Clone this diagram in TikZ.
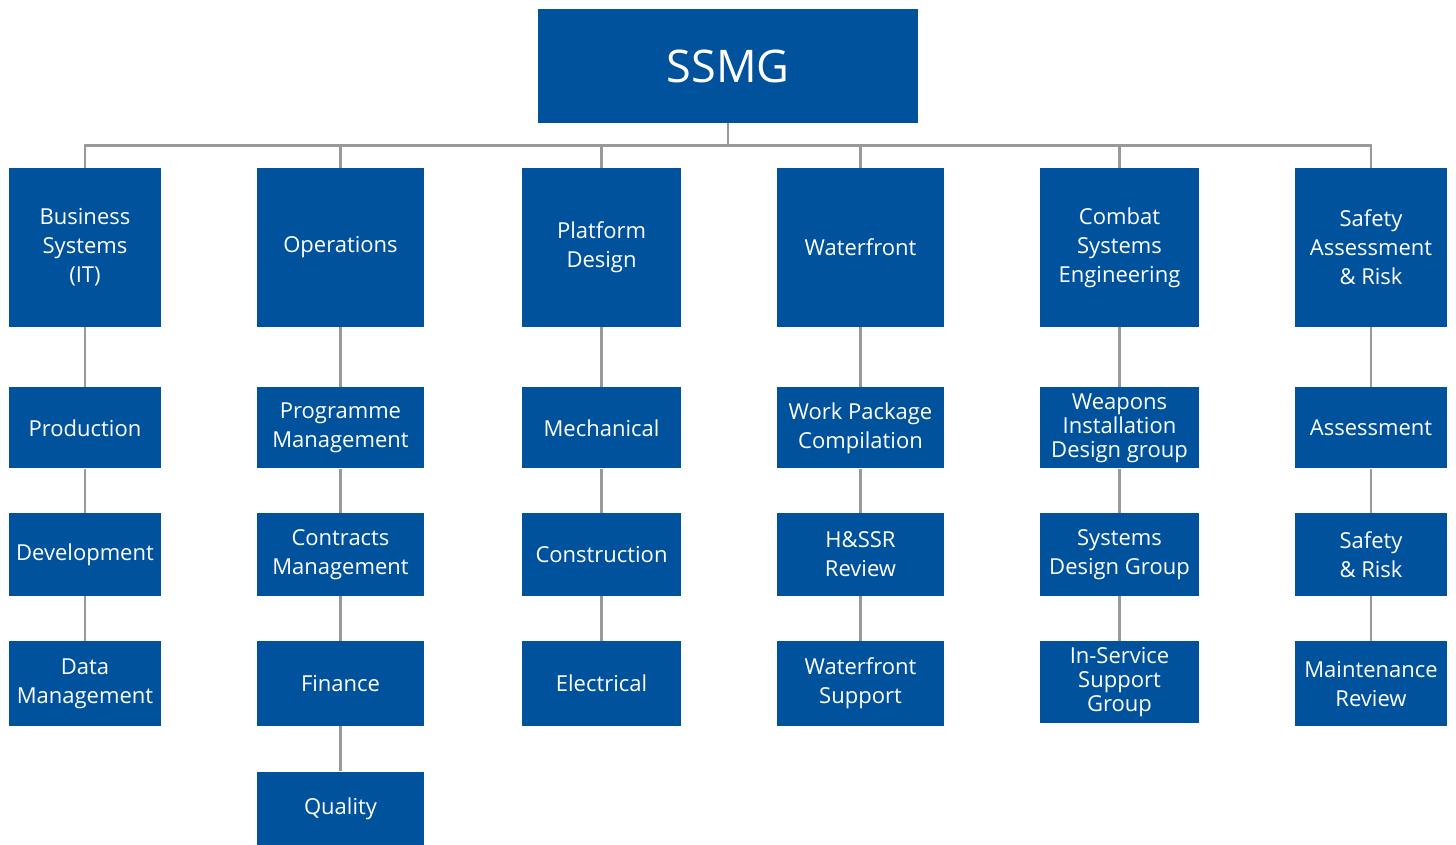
\documentclass[tikz,border=0pt]{standalone}
\usepackage{fontspec}
\setmainfont{Open Sans}
\usetikzlibrary{positioning}

\definecolor{ssmgblue}{RGB}{0,82,156}
\definecolor{linkgray}{RGB}{153,153,153}

\begin{document}
\begin{tikzpicture}[x=1pt, y=-1pt, node distance=45pt,
        unit/.style = {rectangle, fill=ssmgblue, text=white, align=center, inner sep=2pt,
                       font=\fontsize{22}{29}\selectfont},
        head/.style = {unit, minimum height=159pt},
        sub/.style = {unit, minimum height=81pt},
        tight/.style = {font=\fontsize{22}{24}\selectfont},
        link/.style = {draw=linkgray, line width=2.6pt},
        ]
        \useasboundingbox (0,0) rectangle (1456,844);

        \node [unit, minimum width=380pt, minimum height=114pt, font=\fontsize{45}{50}\selectfont] (ssmg) at (728,66) {SSMG};

        % top row
        \node [head, minimum width=152pt] (business) at (85,247.5) {Business\\Systems\\(IT)};
        \node [head, minimum width=167pt] (operations) at (340.5,247.5) {Operations};
        \node [head, minimum width=159pt] (platform) at (601.5,247.5) {Platform\\Design};
        \node [head, minimum width=167pt] (waterfront) at (860.5,247.5) {Waterfront};
        \node [head, minimum width=159pt] (combat) at (1119.5,247.5) {Combat\\Systems\\Engineering};
        \node [head, minimum width=152pt] (safety) at (1371,247.5) {Safety\\Assessment\\\& Risk};

        % Business Systems
        \node [sub, minimum width=152pt, below=60pt of business] (production) {Production};
        \node [sub, minimum width=152pt, minimum height=83pt, below=44pt of production] (development) {Development};
        \node [sub, minimum width=152pt, minimum height=85pt, below=of development] (datamgmt) {Data\\Management};

        % Operations
        \node [sub, minimum width=167pt, below=60pt of operations] (programme) {Programme\\Management};
        \node [sub, minimum width=167pt, minimum height=83pt, below=44pt of programme] (contracts) {Contracts\\Management};
        \node [sub, minimum width=167pt, minimum height=85pt, below=of contracts] (finance) {Finance};
        \node [sub, minimum width=167pt, minimum height=74pt, below=of finance] (quality) {Quality};

        % Platform Design
        \node [sub, minimum width=159pt, below=60pt of platform] (mechanical) {Mechanical};
        \node [sub, minimum width=159pt, minimum height=83pt, below=44pt of mechanical] (construction) {Construction};
        \node [sub, minimum width=159pt, minimum height=85pt, below=of construction] (electrical) {Electrical};

        % Waterfront
        \node [sub, minimum width=167pt, below=60pt of waterfront] (workpackage) {Work Package\\Compilation};
        \node [sub, minimum width=167pt, minimum height=83pt, below=44pt of workpackage] (hssr) {H\&SSR\\Review};
        \node [sub, minimum width=167pt, minimum height=85pt, below=of hssr] (wfsupport) {Waterfront\\Support};

        % Combat Systems Engineering
        \node [sub, tight, minimum width=159pt, below=60pt of combat] (weapons) {Weapons\\Installation\\Design group};
        \node [sub, minimum width=159pt, minimum height=83pt, below=44pt of weapons] (sysdesign) {Systems\\Design Group};
        \node [sub, tight, minimum width=159pt, minimum height=82pt, below=of sysdesign] (inservice) {In-Service\\Support\\Group};

        % Safety Assessment & Risk
        \node [sub, minimum width=152pt, below=60pt of safety] (assessment) {Assessment};
        \node [sub, minimum width=152pt, minimum height=83pt, below=44pt of assessment] (saferisk) {Safety\\\& Risk};
        \node [sub, minimum width=152pt, minimum height=85pt, below=of saferisk] (maintenance) {Maintenance\\Review};

        % bus from SSMG
        \foreach \t in {business, operations, platform, waterfront, combat, safety}
            \draw [link] (ssmg.south) -- ++(0,22) -| (\t.north);

        % columns
        \draw [link] (business) -- (production) -- (development) -- (datamgmt);
        \draw [link] (operations) -- (programme) -- (contracts) -- (finance) -- (quality);
        \draw [link] (platform) -- (mechanical) -- (construction) -- (electrical);
        \draw [link] (waterfront) -- (workpackage) -- (hssr) -- (wfsupport);
        \draw [link] (combat) -- (weapons) -- (sysdesign) -- (inservice);
        \draw [link] (safety) -- (assessment) -- (saferisk) -- (maintenance);

    \end{tikzpicture}
\end{document}
